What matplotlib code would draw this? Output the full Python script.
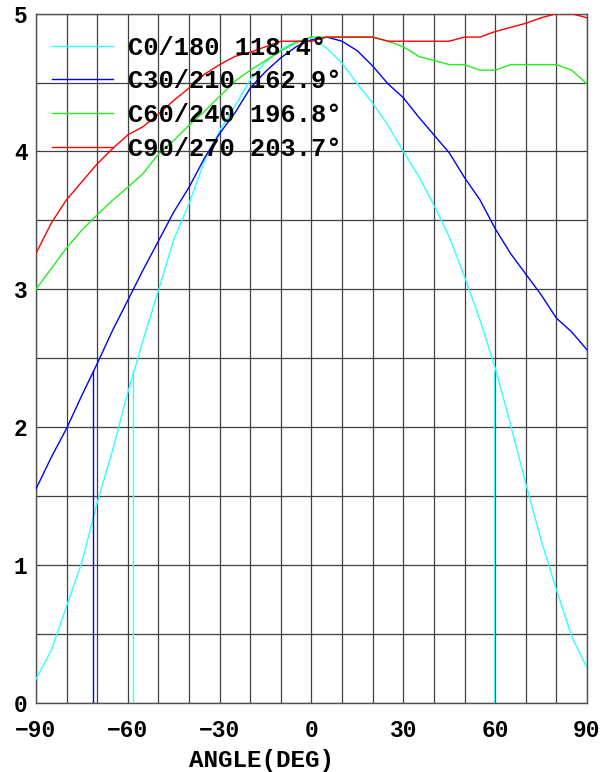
import numpy as np
import matplotlib
matplotlib.use('Agg')
import matplotlib.pyplot as plt
from matplotlib.ticker import MultipleLocator

angles = list(range(-90, 91, 5))

c0 = [0.17, 0.38, 0.70, 1.02, 1.45, 1.83, 2.25, 2.63, 2.99, 3.36, 3.62, 3.93, 4.15,
      4.33, 4.52, 4.65, 4.74, 4.80, 4.82, 4.75, 4.64, 4.49, 4.35, 4.19, 4.00, 3.82,
      3.61, 3.38, 3.09, 2.78, 2.43, 2.02, 1.59, 1.18, 0.82, 0.48, 0.25]
c30 = [1.55, 1.78, 1.99, 2.23, 2.46, 2.70, 2.92, 3.14, 3.35, 3.56, 3.74, 3.95, 4.13,
       4.28, 4.46, 4.58, 4.68, 4.76, 4.81, 4.83, 4.80, 4.73, 4.62, 4.49, 4.39, 4.25,
       4.12, 3.99, 3.81, 3.65, 3.44, 3.26, 3.11, 2.96, 2.79, 2.69, 2.56]
c60 = [3.00, 3.15, 3.30, 3.43, 3.54, 3.645, 3.74, 3.84, 3.98, 4.08, 4.19, 4.29, 4.40,
       4.51, 4.59, 4.66, 4.73, 4.79, 4.83, 4.83, 4.83, 4.83, 4.83, 4.80, 4.76, 4.69,
       4.66, 4.63, 4.63, 4.59, 4.59, 4.63, 4.63, 4.63, 4.63, 4.59, 4.49]
c90 = [3.26, 3.48, 3.65, 3.78, 3.91, 4.02, 4.12, 4.18, 4.27, 4.37, 4.46, 4.56, 4.63,
       4.69, 4.72, 4.76, 4.80, 4.80, 4.80, 4.83, 4.83, 4.83, 4.83, 4.80, 4.80, 4.80,
       4.80, 4.80, 4.83, 4.83, 4.87, 4.90, 4.93, 4.97, 5.00, 5.00, 4.97]

labels = ['C0/180 118.4°', 'C30/210 162.9°', 'C60/240 196.8°', 'C90/270 203.7°']
colors = ['#33ffff', '#0000ff', '#22ee22', '#ff0000']

# half-max markers (angle, value)
c0_half = [-58.4, 59.7]
c30_half = [-71.4]
half_val = 2.41

plt.rcParams['font.family'] = ['Liberation Mono', 'DejaVu Sans']
plt.rcParams['font.weight'] = 'bold'

fig = plt.figure(figsize=(6.16, 7.72), dpi=100)
ax = fig.add_axes([0.0584, 0.09, 0.8945, 0.8923])

for vals, col, lab in zip([c0, c30, c60, c90], colors, labels):
    ax.plot(angles, vals, color=col, lw=1.0, label=lab, zorder=3)

ax.vlines(c0_half, 0, half_val, color=colors[0], lw=1.0, zorder=3)
ax.vlines(c30_half, 0, half_val, color=colors[1], lw=1.0, zorder=3)

ax.set_xlim(-90, 90)
ax.set_ylim(0, 5)
ax.xaxis.set_major_locator(MultipleLocator(30))
ax.xaxis.set_minor_locator(MultipleLocator(10))
ax.yaxis.set_major_locator(MultipleLocator(1))
ax.yaxis.set_minor_locator(MultipleLocator(0.5))
ax.grid(True, which='both', color='#404040', lw=0.9, zorder=1)
ax.tick_params(which='both', length=0)
ax.tick_params(axis='x', labelsize=16.5, pad=12)
ax.tick_params(axis='y', labelsize=16.5, pad=6)
for lbl in ax.get_yticklabels():
    lbl.set_verticalalignment('center_baseline')
for sp in ax.spines.values():
    sp.set_color('#505050')
    sp.set_linewidth(1.0)

ax.set_xlabel('ANGLE(DEG)', fontsize=17.5, fontweight='bold', labelpad=0)
ax.xaxis.set_label_coords(0.41, -0.068)

leg = ax.legend(loc='upper left', bbox_to_anchor=(0.029, 0.968), frameon=False,
                fontsize=18.3, handlelength=2.4, handletextpad=0.6,
                labelspacing=0.38, borderpad=0, borderaxespad=0)
leg.set_zorder(5)

fig.savefig('out.png', dpi=100)
